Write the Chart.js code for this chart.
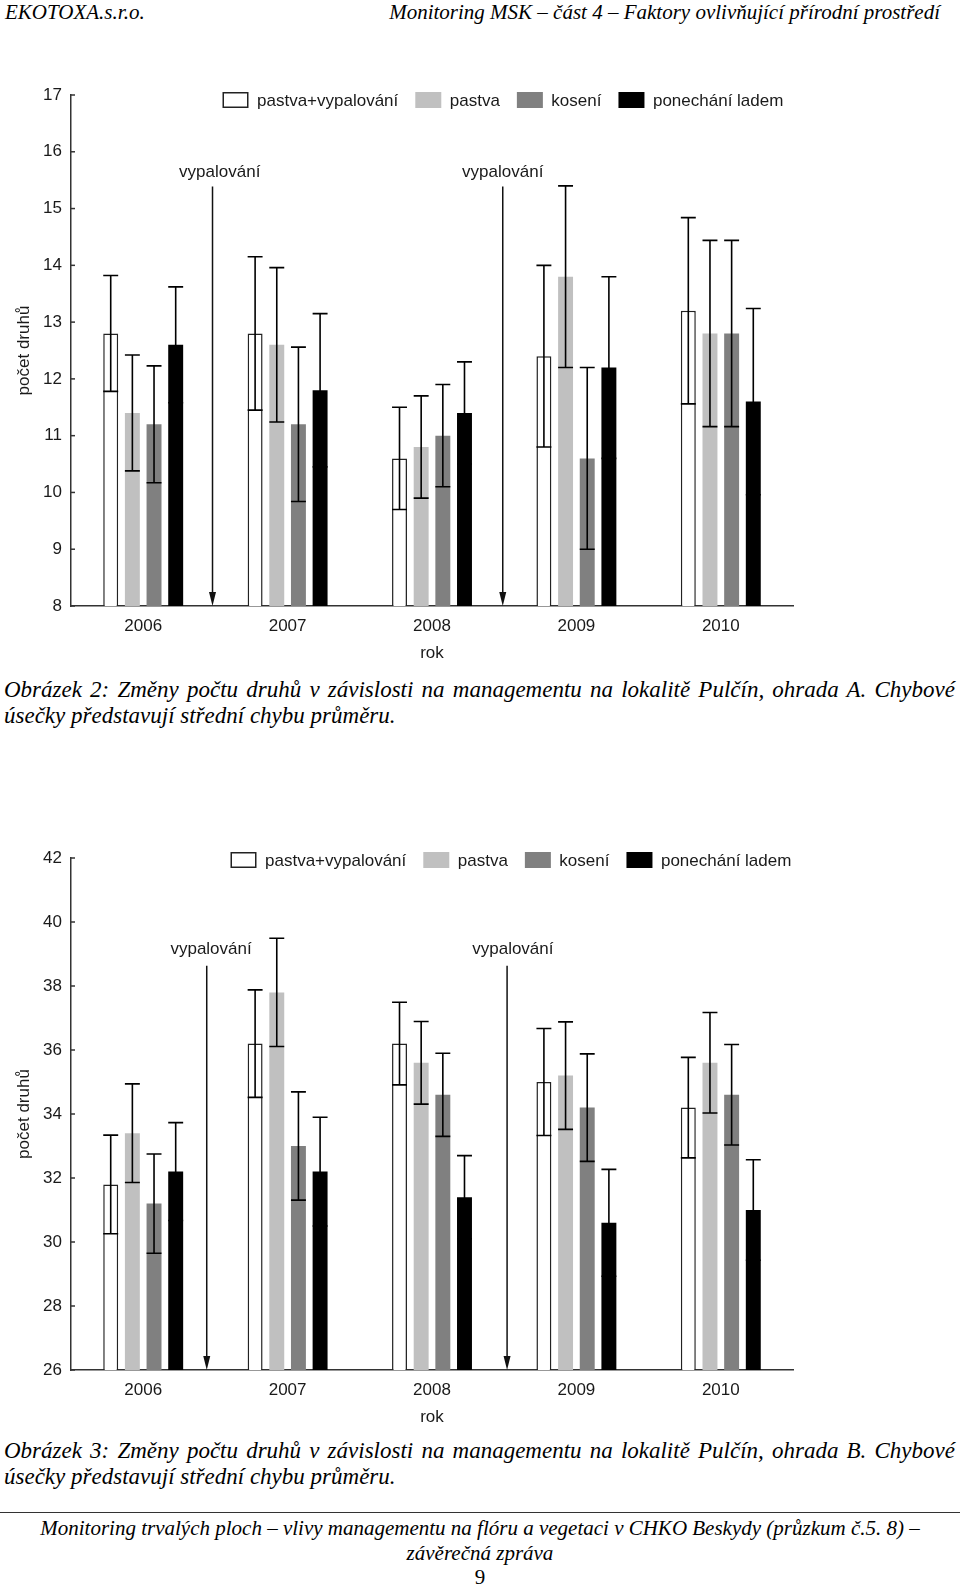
<!DOCTYPE html>
<html lang="cs">
<head>
<meta charset="utf-8">
<script src="https://cdn.jsdelivr.net/npm/chart.js@4.4.1/dist/chart.umd.min.js"></script>
<style>
  body { margin: 0; background: #fff; }
  #page { position: relative; width: 960px; height: 1585px; overflow: hidden; color: #000; }
  .serif { font-family: "Liberation Serif", "Times New Roman", serif; font-style: italic; }
  .hdr { position: absolute; top: 0; font-size: 21px; line-height: 24px; white-space: nowrap; }
  .cap { position: absolute; left: 4px; width: 951px; font-size: 23px; line-height: 26px; }
  .cap .j { text-align: justify; text-align-last: justify; white-space: nowrap; }
  .foot { position: absolute; left: 0; width: 960px; text-align: center; font-size: 21px; line-height: 24.5px; }
  canvas { position: absolute; left: 0; }
</style>
</head>
<body>
<div id="page">
  <div class="hdr serif" style="left:5px">EKOTOXA.s.r.o.</div>
  <div class="hdr serif" style="right:20px">Monitoring MSK – část 4 – Faktory ovlivňující přírodní prostředí</div>

  <canvas id="chartA" width="960" height="664" style="top:0"></canvas>
  <div class="cap serif" style="top:677px">
    <div class="j">Obrázek 2: Změny počtu druhů v závislosti na managementu na lokalitě Pulčín, ohrada A. Chybové</div>
    <div>úsečky představují střední chybu průměru.</div>
  </div>

  <canvas id="chartB" width="960" height="666" style="top:762px"></canvas>
  <div class="cap serif" style="top:1438px">
    <div class="j">Obrázek 3: Změny počtu druhů v závislosti na managementu na lokalitě Pulčín, ohrada B. Chybové</div>
    <div>úsečky představují střední chybu průměru.</div>
  </div>

  <div style="position:absolute;left:0;top:1512px;width:960px;height:1px;background:#333"></div>
  <div class="foot" style="top:1516px">
    <div class="serif">Monitoring trvalých ploch – vlivy managementu na flóru a vegetaci v CHKO Beskydy (průzkum č.5. 8) –</div>
    <div class="serif">závěrečná zpráva</div>
    <div style="font-family:'Liberation Serif','Times New Roman',serif">9</div>
  </div>
</div>

<script>
const years = ['2006', '2007', '2008', '2009', '2010'];
const seriesNames = ['pastva+vypalování', 'pastva', 'kosení', 'ponechání ladem'];

// ohrada A - průměr a střední chyba
const meanA_pv = [12.8, 12.8, 10.6, 12.4, 13.2];
const meanA_p = [11.4, 12.6, 10.8, 13.8, 12.8];
const meanA_k = [11.2, 11.2, 11.0, 10.6, 12.8];
const meanA_l = [12.6, 11.8, 11.4, 12.2, 11.6];
const seA_pv = [1.02, 1.35, 0.9, 1.6, 1.64];
const seA_p = [1.02, 1.36, 0.9, 1.6, 1.64];
const seA_k = [1.03, 1.36, 0.9, 1.6, 1.64];
const seA_l = [1.02, 1.35, 0.9, 1.6, 1.64];

// ohrada B
const meanB_pv = [31.8, 36.2, 36.2, 35.0, 34.2];
const meanB_p = [33.4, 37.8, 35.6, 35.2, 35.6];
const meanB_k = [31.2, 33.0, 34.6, 34.2, 34.6];
const meanB_l = [32.2, 32.2, 31.4, 30.6, 31.0];
const seB_pv = [1.54, 1.68, 1.29, 1.67, 1.57];
const seB_p = [1.54, 1.69, 1.29, 1.68, 1.57];
const seB_k = [1.55, 1.69, 1.3, 1.68, 1.57];
const seB_l = [1.53, 1.7, 1.3, 1.67, 1.57];

// vypalování - pozice šipek (index kategorie) a horní konec
const arrowsA = [0.48, 2.49];
const arrowLabelsA = [0.53, 2.49];
const arrowTopA = 15.39;
const arrowsB = [0.44, 2.52];
const arrowLabelsB = [0.47, 2.56];
const arrowTopB = 38.63;

const fills = ['#ffffff', '#c0c0c0', '#808080', '#000000'];
const FONT = "'Liberation Sans', Arial, sans-serif";
const INK = '#1a1a1a';

const errorBars = {
    id: 'errorBars',
    afterDatasetsDraw(chart) {
        const ctx = chart.ctx;
        const y = chart.scales.y;
        ctx.save();
        ctx.strokeStyle = '#000';
        ctx.lineWidth = 1.6;
        chart.data.datasets.forEach((ds, i) => {
            chart.getDatasetMeta(i).data.forEach((bar, j) => {
                const top = y.getPixelForValue(ds.data[j] + ds.se[j]);
                const bot = y.getPixelForValue(ds.data[j] - ds.se[j]);
                const half = bar.width / 2;
                ctx.beginPath();
                ctx.moveTo(bar.x, top); ctx.lineTo(bar.x, bot);
                ctx.moveTo(bar.x - half, top); ctx.lineTo(bar.x + half, top);
                ctx.moveTo(bar.x - half, bot); ctx.lineTo(bar.x + half, bot);
                ctx.stroke();
            });
        });
        ctx.restore();
    }
};

const extras = {
    id: 'extras',
    afterDraw(chart, args, opts) {
        const ctx = chart.ctx;
        const x = chart.scales.x, y = chart.scales.y;
        const area = chart.chartArea;
        ctx.save();

        // drobné vnitřní značky na ose y
        ctx.strokeStyle = '#333';
        ctx.lineWidth = 1.5;
        y.ticks.forEach(t => {
            const py = y.getPixelForValue(t.value);
            ctx.beginPath();
            ctx.moveTo(area.left, py); ctx.lineTo(area.left + 4, py);
            ctx.stroke();
        });

        // šipky vypalování
        ctx.fillStyle = '#111';
        ctx.strokeStyle = '#111';
        ctx.font = '17px ' + FONT;
        ctx.textAlign = 'center';
        ctx.textBaseline = 'middle';
        opts.arrows.forEach((a, i) => {
            const px = x.getPixelForValue(a);
            const top = y.getPixelForValue(opts.top);
            ctx.beginPath();
            ctx.moveTo(px, top); ctx.lineTo(px, area.bottom - 8);
            ctx.stroke();
            ctx.beginPath();
            ctx.moveTo(px - 3.5, area.bottom - 14);
            ctx.lineTo(px + 3.5, area.bottom - 14);
            ctx.lineTo(px, area.bottom);
            ctx.closePath();
            ctx.fill();
            ctx.fillStyle = INK;
            ctx.fillText('vypalování', x.getPixelForValue(opts.labels[i]), top - opts.labelGap);
            ctx.fillStyle = '#111';
        });

        // legenda
        let lx = opts.legendX;
        const ly = opts.legendY;
        ctx.textAlign = 'left';
        chart.data.datasets.forEach(ds => {
            ctx.fillStyle = ds.backgroundColor;
            ctx.fillRect(lx, ly - 8, 26, 16);
            if (ds.borderWidth) {
                ctx.lineWidth = 1.5;
                ctx.strokeStyle = '#222';
                ctx.strokeRect(lx + 0.75, ly - 7.25, 24.5, 14.5);
            }
            ctx.fillStyle = INK;
            ctx.fillText(ds.label, lx + 34.5, ly + 1);
            lx += 34.5 + ctx.measureText(ds.label).width + 17;
        });
        ctx.restore();
    }
};

function makeChart(id, means, ses, yMin, yMax, step, padTop, extraOpts) {
    const datasets = means.map((m, i) => ({
        label: seriesNames[i],
        data: m,
        se: ses[i],
        backgroundColor: fills[i],
        borderColor: '#222',
        borderWidth: i === 0 ? 1.5 : 0,
        categoryPercentage: 0.6,
        barPercentage: 0.69
    }));
    return new Chart(document.getElementById(id), {
        type: 'bar',
        data: { labels: years, datasets: datasets },
        options: {
            responsive: false,
            animation: false,
            layout: { padding: { top: padTop, right: 167, left: 0, bottom: 0 } },
            scales: {
                x: {
                    grid: { display: false, drawTicks: false },
                    border: { display: true, color: '#333', width: 1.5 },
                    ticks: { color: INK, font: { family: FONT, size: 17 }, padding: 10 },
                    title: { display: true, text: 'rok', color: INK, font: { family: FONT, size: 17 }, padding: { top: 0, bottom: 0 } },
                    afterFit: s => { s.height = 58; }
                },
                y: {
                    min: yMin,
                    max: yMax,
                    grid: { display: false, drawTicks: false },
                    border: { display: true, color: '#333', width: 1.5 },
                    ticks: { stepSize: step, color: INK, font: { family: FONT, size: 17 }, padding: 9 },
                    title: { display: true, text: 'počet druhů', color: INK, font: { family: FONT, size: 17 }, padding: { top: 14, bottom: 0 } },
                    afterFit: s => { s.width = 71; }
                }
            },
            plugins: {
                legend: { display: false },
                tooltip: { enabled: false },
                extras: extraOpts
            }
        },
        plugins: [errorBars, extras]
    });
}

makeChart('chartA',
    [meanA_pv, meanA_p, meanA_k, meanA_l],
    [seA_pv, seA_p, seA_k, seA_l],
    8, 17, 1, 95,
    { arrows: arrowsA, labels: arrowLabelsA, top: arrowTopA, labelGap: 14, legendX: 222.5, legendY: 100 });

makeChart('chartB',
    [meanB_pv, meanB_p, meanB_k, meanB_l],
    [seB_pv, seB_p, seB_k, seB_l],
    26, 42, 2, 96,
    { arrows: arrowsB, labels: arrowLabelsB, top: arrowTopB, labelGap: 17, legendX: 230.5, legendY: 98 });
</script>
</body>
</html>
